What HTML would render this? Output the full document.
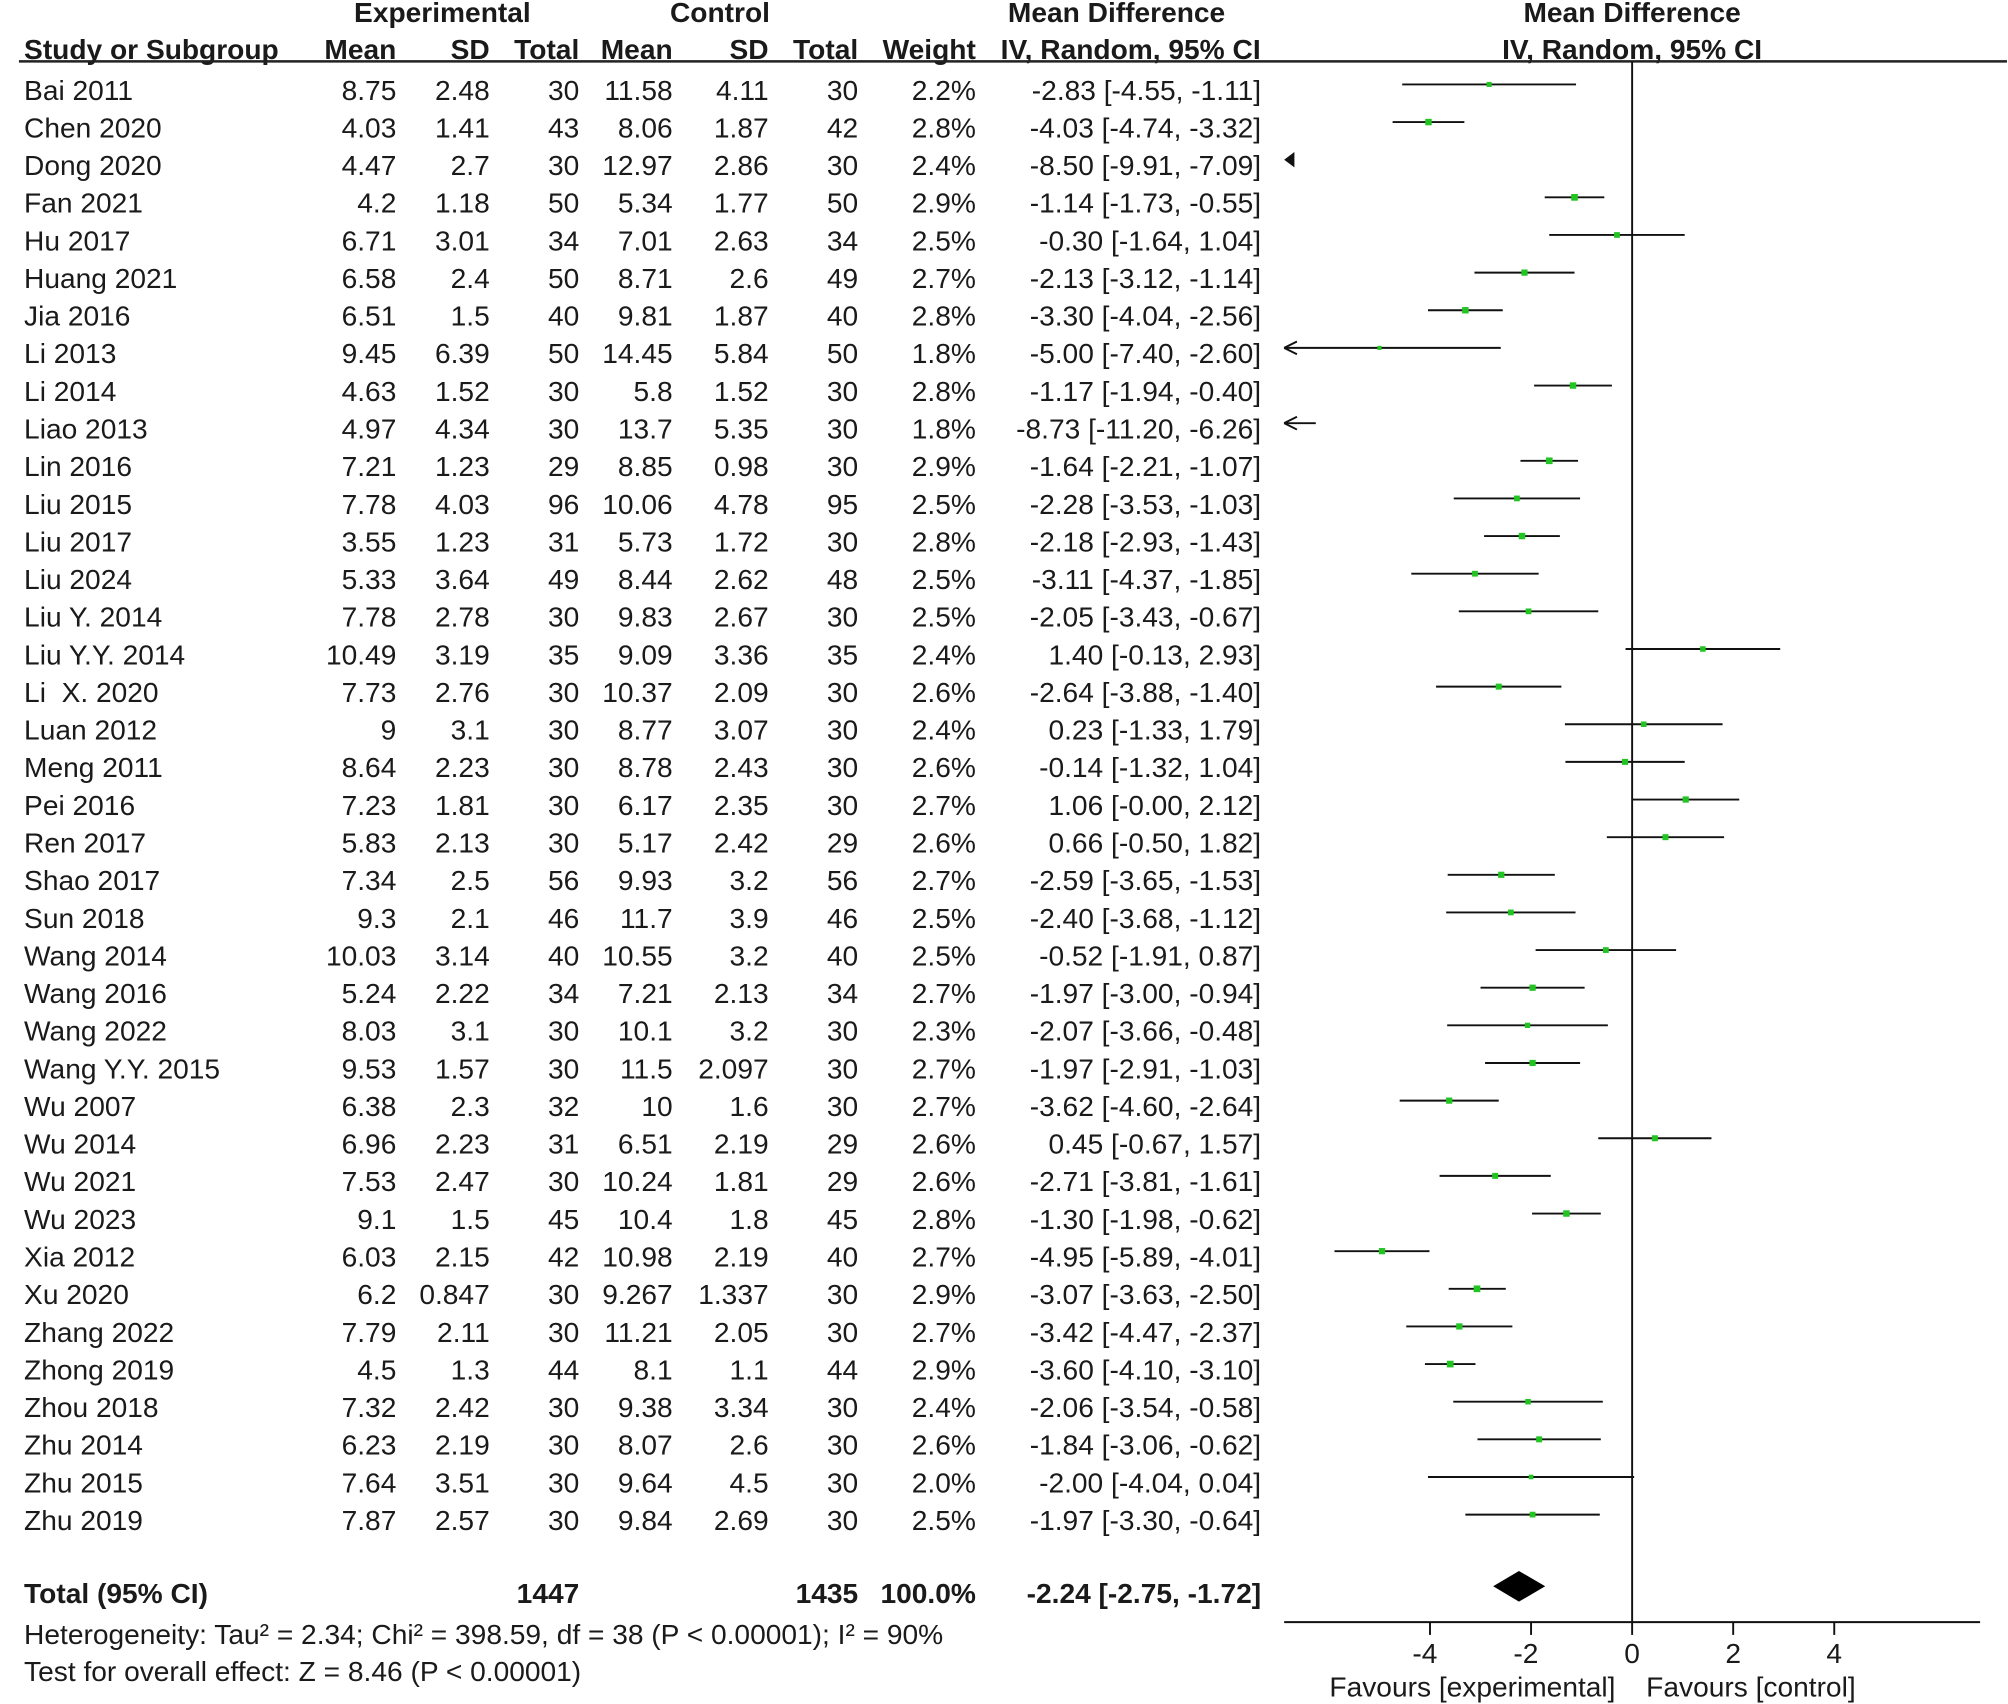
<!DOCTYPE html>
<html><head><meta charset="utf-8"><style>
html,body{margin:0;padding:0;background:#fff}
svg{display:block}
text{font-family:"Liberation Sans",Arial,sans-serif;font-size:22px;fill:#1a1a1a;white-space:pre}
.b{font-weight:bold}
</style></head><body>
<svg id="plot" width="2008" height="1704" viewBox="0 0 1568 1332" xmlns="http://www.w3.org/2000/svg">
<g>
<text class="b" x="345" y="17" text-anchor="middle">Experimental</text>
<text class="b" x="562" y="17" text-anchor="middle">Control</text>
<text class="b" x="872" y="17" text-anchor="middle">Mean Difference</text>
<text class="b" x="1275" y="17" text-anchor="middle">Mean Difference</text>
<text class="b" x="18" y="46">Study or Subgroup</text>
<text class="b" x="309" y="46" text-anchor="end">Mean</text>
<text class="b" x="382" y="46" text-anchor="end">SD</text>
<text class="b" x="452" y="46" text-anchor="end">Total</text>
<text class="b" x="525" y="46" text-anchor="end">Mean</text>
<text class="b" x="600" y="46" text-anchor="end">SD</text>
<text class="b" x="670" y="46" text-anchor="end">Total</text>
<text class="b" x="762" y="46" text-anchor="end">Weight</text>
<text class="b" x="883" y="46" text-anchor="middle">IV, Random, 95% CI</text>
<text class="b" x="1275" y="46" text-anchor="middle">IV, Random, 95% CI</text>
<line x1="14" y1="48" x2="1568" y2="48" stroke="#222" stroke-width="2"/>
</g>
<g id="rows"></g>
<g id="axis"></g>
</svg>
<script>
const studies=["Bai 2011","Chen 2020","Dong 2020","Fan 2021","Hu 2017","Huang 2021","Jia 2016","Li 2013","Li 2014","Liao 2013","Lin 2016","Liu 2015","Liu 2017","Liu 2024","Liu Y. 2014","Liu Y.Y. 2014","Li  X. 2020","Luan 2012","Meng 2011","Pei 2016","Ren 2017","Shao 2017","Sun 2018","Wang 2014","Wang 2016","Wang 2022","Wang Y.Y. 2015","Wu 2007","Wu 2014","Wu 2021","Wu 2023","Xia 2012","Xu 2020","Zhang 2022","Zhong 2019","Zhou 2018","Zhu 2014","Zhu 2015","Zhu 2019"];
const meanE=["8.75","4.03","4.47","4.2","6.71","6.58","6.51","9.45","4.63","4.97","7.21","7.78","3.55","5.33","7.78","10.49","7.73","9","8.64","7.23","5.83","7.34","9.3","10.03","5.24","8.03","9.53","6.38","6.96","7.53","9.1","6.03","6.2","7.79","4.5","7.32","6.23","7.64","7.87"];
const sdE=["2.48","1.41","2.7","1.18","3.01","2.4","1.5","6.39","1.52","4.34","1.23","4.03","1.23","3.64","2.78","3.19","2.76","3.1","2.23","1.81","2.13","2.5","2.1","3.14","2.22","3.1","1.57","2.3","2.23","2.47","1.5","2.15","0.847","2.11","1.3","2.42","2.19","3.51","2.57"];
const nE=[30,43,30,50,34,50,40,50,30,30,29,96,31,49,30,35,30,30,30,30,30,56,46,40,34,30,30,32,31,30,45,42,30,30,44,30,30,30,30];
const meanC=["11.58","8.06","12.97","5.34","7.01","8.71","9.81","14.45","5.8","13.7","8.85","10.06","5.73","8.44","9.83","9.09","10.37","8.77","8.78","6.17","5.17","9.93","11.7","10.55","7.21","10.1","11.5","10","6.51","10.24","10.4","10.98","9.267","11.21","8.1","9.38","8.07","9.64","9.84"];
const sdC=["4.11","1.87","2.86","1.77","2.63","2.6","1.87","5.84","1.52","5.35","0.98","4.78","1.72","2.62","2.67","3.36","2.09","3.07","2.43","2.35","2.42","3.2","3.9","3.2","2.13","3.2","2.097","1.6","2.19","1.81","1.8","2.19","1.337","2.05","1.1","3.34","2.6","4.5","2.69"];
const nC=[30,42,30,50,34,49,40,50,30,30,30,95,30,48,30,35,30,30,30,30,29,56,46,40,34,30,30,30,29,29,45,40,30,30,44,30,30,30,30];
const weights=[2.2,2.8,2.4,2.9,2.5,2.7,2.8,1.8,2.8,1.8,2.9,2.5,2.8,2.5,2.5,2.4,2.6,2.4,2.6,2.7,2.6,2.7,2.5,2.5,2.7,2.3,2.7,2.7,2.6,2.6,2.8,2.7,2.9,2.7,2.9,2.4,2.6,2.0,2.5];
const md=[-2.83,-4.03,-8.50,-1.14,-0.30,-2.13,-3.30,-5.00,-1.17,-8.73,-1.64,-2.28,-2.18,-3.11,-2.05,1.40,-2.64,0.23,-0.14,1.06,0.66,-2.59,-2.40,-0.52,-1.97,-2.07,-1.97,-3.62,0.45,-2.71,-1.30,-4.95,-3.07,-3.42,-3.60,-2.06,-1.84,-2.00,-1.97];
const lo=[-4.55,-4.74,-9.91,-1.73,-1.64,-3.12,-4.04,-7.40,-1.94,-11.20,-2.21,-3.53,-2.93,-4.37,-3.43,-0.13,-3.88,-1.33,-1.32,-0.001,-0.50,-3.65,-3.68,-1.91,-3.00,-3.66,-2.91,-4.60,-0.67,-3.81,-1.98,-5.89,-3.63,-4.47,-4.10,-3.54,-3.06,-4.04,-3.30];
const hi=[-1.11,-3.32,-7.09,-0.55,1.04,-1.14,-2.56,-2.60,-0.40,-6.26,-1.07,-1.03,-1.43,-1.85,-0.67,2.93,-1.40,1.79,1.04,2.12,1.82,-1.53,-1.12,0.87,-0.94,-0.48,-1.03,-2.64,1.57,-1.61,-0.62,-4.01,-2.50,-2.37,-3.10,-0.58,-0.62,0.04,-0.64];
const total={md:-2.24,lo:-2.75,hi:-1.72,nE:1447,nC:1435};
const ticks=[-4,-2,0,2,4];

const NS="http://www.w3.org/2000/svg";
const X0=1275,PX=39.5,XMIN=1003,XMAX=1547;
const xs=v=>X0+v*PX;
const ry=i=>70+i*29.42;
const f2=v=>(v<0?"-":"")+Math.abs(v).toFixed(2);
function mk(tag,attrs,parent,txt){const e=document.createElementNS(NS,tag);for(const k in attrs)e.setAttribute(k,attrs[k]);if(txt!==undefined)e.textContent=txt;parent.appendChild(e);return e;}
const rows=document.getElementById('rows');
studies.forEach((s,i)=>{
 const g=mk('g',{},rows);
 
 
 const y=ry(i)+8;
 mk('text',{x:18,y:y},g,s);
 [[meanE[i],309],[sdE[i],382],[nE[i],452],[meanC[i],525],[sdC[i],600],[nC[i],670],[weights[i].toFixed(1)+"%",762],[f2(md[i])+" ["+f2(lo[i])+", "+f2(hi[i])+"]",985]].forEach(([t,x])=>mk('text',{x:x,y:y,'text-anchor':'end'},g,t));
 const cy=ry(i)-4;
 let a=xs(lo[i]),b=xs(hi[i]);
 if(b<XMIN){
  const ar=mk('path',{d:`M${XMIN} ${cy} L${XMIN+8} ${cy-6} L${XMIN+8} ${cy+6} Z`,fill:'#111'},g);
  
  return;
 }
 const la=Math.max(a,XMIN),lb=Math.min(b,XMAX);
 const ln=mk('line',{x1:la,y1:cy,x2:lb,y2:cy,stroke:'#111','stroke-width':1.5},g);
 
 if(a<XMIN){const ar=mk('path',{d:`M${XMIN} ${cy} L${XMIN+10} ${cy-5} M${XMIN} ${cy} L${XMIN+10} ${cy+5}`,stroke:'#111','stroke-width':1.5,fill:'none'},g);}
 if(xs(md[i])>=XMIN){const sz=weights[i]*1.8;const sq=mk('rect',{x:xs(md[i])-sz/2,y:cy-sz/2,width:sz,height:sz,fill:'#22c422'},g);}
});
const tg=mk('g',{},rows);


const ty=1253;
mk('text',{x:18,y:ty,class:'b'},tg,"Total (95% CI)");
mk('text',{x:452,y:ty,'text-anchor':'end',class:'b'},tg,total.nE);
mk('text',{x:670,y:ty,'text-anchor':'end',class:'b'},tg,total.nC);
mk('text',{x:762,y:ty,'text-anchor':'end',class:'b'},tg,"100.0%");
mk('text',{x:985,y:ty,'text-anchor':'end',class:'b'},tg,f2(total.md)+" ["+f2(total.lo)+", "+f2(total.hi)+"]");
const dm=mk('path',{d:`M${xs(total.lo)} 1240 L${xs(total.md)} 1228 L${xs(total.hi)} 1240 L${xs(total.md)} 1252 Z`,fill:'#000'},tg);

const h1=mk('text',{x:18,y:1285},tg,"Heterogeneity: Tau² = 2.34; Chi² = 398.59, df = 38 (P < 0.00001); I² = 90%");

const h2=mk('text',{x:18,y:1314},tg,"Test for overall effect: Z = 8.46 (P < 0.00001)");

const ax=document.getElementById('axis');


mk('line',{x1:X0,y1:48,x2:X0,y2:1268,stroke:'#111','stroke-width':1.5},ax);
mk('line',{x1:XMIN,y1:1268,x2:XMAX,y2:1268,stroke:'#111','stroke-width':1.5},ax);
ticks.forEach(t=>{
 mk('line',{x1:xs(t),y1:1268,x2:xs(t),y2:1278,stroke:'#111','stroke-width':1.5},ax);
 const lt=mk('text',{x:xs(t)-(t<0?4:0),y:1300,'text-anchor':'middle'},ax,t<0?"-"+Math.abs(t):String(t));
 
});
const fa=mk('text',{x:1262,y:1326,'text-anchor':'end',fill:'#333'},ax,"Favours [experimental]");

const fb=mk('text',{x:1286,y:1326,fill:'#333'},ax,"Favours [control]");

// fix -0.00 display for Pei 2016
const peiRow=rows.children[19].children[8];
peiRow.textContent="1.06 [-0.00, 2.12]";
</script>
</body></html>
